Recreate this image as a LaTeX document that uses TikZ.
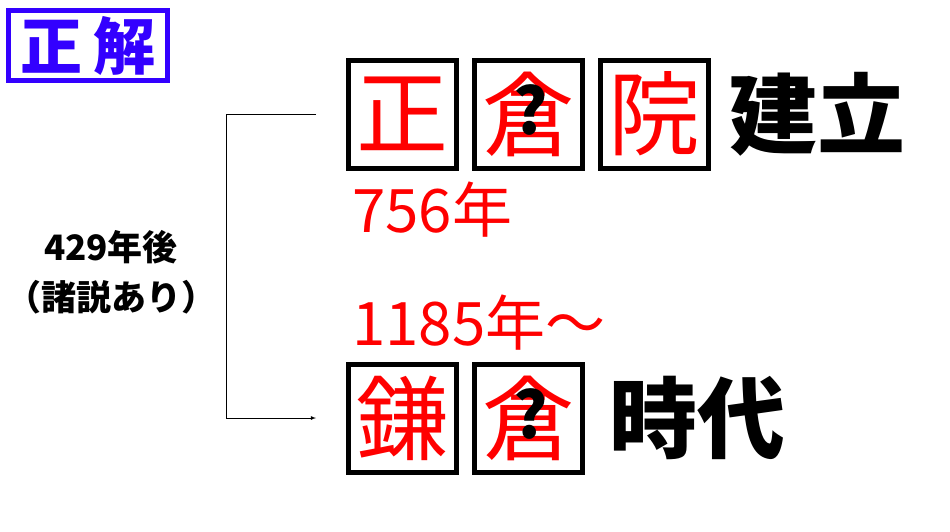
\documentclass[tikz,border=0pt]{standalone}
\usepackage{fontspec}
\newfontfamily\jp{Noto Sans CJK JP}
\usetikzlibrary{positioning}
\usetikzlibrary{arrows}

\definecolor{seikai}{RGB}{51,0,255}

\begin{document}
\begin{tikzpicture}[x=1pt, y=-1pt,
  charbox/.style={draw, line width=5pt, minimum width=108pt, minimum height=108pt, inner sep=0pt, text=red, font=\jp\fontsize{92}{92}\selectfont},
  hatena/.style={inner sep=0pt, font=\jp\bfseries\fontsize{64}{64}\selectfont},
  bigword/.style={inner sep=0pt, anchor=west, font=\jp\bfseries\fontsize{88}{88}\selectfont},
  year/.style={inner sep=0pt, anchor=west, text=red, font=\jp\fontsize{60}{60}\selectfont}]
  % \draw[step=50pt, gray!20!white, very thin] (0,0) grid (950,531);
  \useasboundingbox (0,0) rectangle (950,531);

  \node[draw=seikai, line width=5pt, minimum width=159pt, minimum height=70pt, text=seikai, font=\jp\bfseries\fontsize{62}{62}\selectfont] at (88, 45.5) (seikai) {正\hspace{12pt}解};

  \node[charbox] at (402.5, 114) (sho)           {正};
  \node[charbox] (so)   [right=13pt of sho]      {倉};
  \node[charbox] (in)   [right=13pt of so]       {院};
  \node[bigword] (konryu) [right=18pt of in]     {建立};
  \node[hatena] at ([xshift=2pt, yshift=4pt]so.center) (q1) {?};

  \node[charbox] at (402.5, 418) (kama)          {鎌};
  \node[charbox] (kura) [right=13pt of kama]     {倉};
  \node[bigword] (jidai) [right=24pt of kura]    {時代};
  \node[hatena] at ([xshift=2pt, yshift=4pt]kura.center) (q2) {?};

  \node[year] at (352, 210) (nara)   {756年};
  \node[year] at (352, 323) (kamakura) {1185年～};

  \node[align=center, font=\jp\bfseries\fontsize{35}{50}\selectfont] at (111, 272) (gap) {429年後\\（諸説あり）};

  \draw [-latex, thick] ([xshift=-30pt]sho.west) -- ++(-90,0) |- ([xshift=-30pt]kama.west);

\end{tikzpicture}
\end{document}
